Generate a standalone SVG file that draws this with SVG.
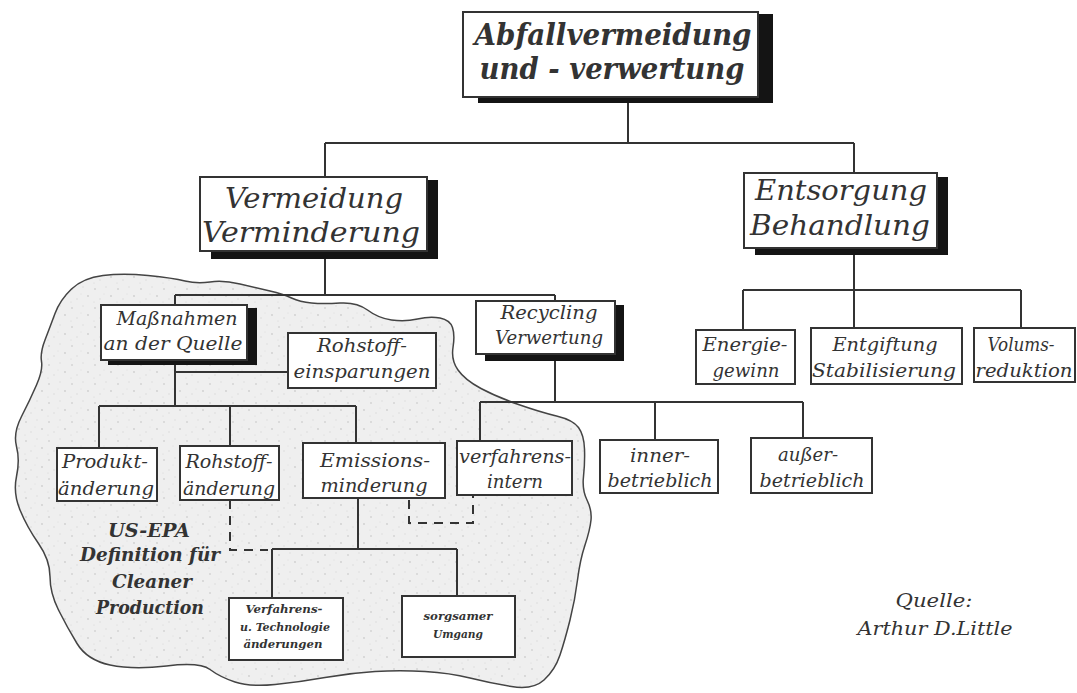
<svg xmlns="http://www.w3.org/2000/svg" width="1077" height="693" viewBox="0 0 1077 693">
<defs>
<pattern id="stipple" width="23" height="19" patternUnits="userSpaceOnUse">
<rect width="23" height="19" fill="#efefef"/>
<circle cx="3" cy="4" r="0.9" fill="#d2d2d2"/>
<circle cx="14" cy="2" r="0.7" fill="#dadada"/>
<circle cx="19" cy="11" r="0.9" fill="#cfcfcf"/>
<circle cx="8" cy="14" r="0.7" fill="#d6d6d6"/>
<circle cx="12" cy="9" r="0.6" fill="#dcdcdc"/>
<circle cx="2" cy="17" r="0.6" fill="#d8d8d8"/>
</pattern>
<style>
.box{fill:#ffffff;stroke:#333;stroke-width:2}
.shadow{fill:#141414}
.ln{fill:none;stroke:#333;stroke-width:2}
.dash{fill:none;stroke:#333;stroke-width:2;stroke-dasharray:9 7}
.t{font-family:"DejaVu Serif","Liberation Serif",serif;font-style:italic;fill:#333;text-anchor:middle}
.big{font-size:29px;font-weight:bold}
.l2{font-size:27px}
.l3{font-size:18px}
.sm{font-size:11px;font-weight:bold}
.epa{font-size:19px;font-weight:bold}
.src{font-size:19px}
</style>
</defs>
<rect width="1077" height="693" fill="#ffffff"/>
<g id="cloud">
<path d="M 55,313.5 Q 60,300 71.5,289 Q 83,278 103,275.5 Q 123,273 148,275.5 Q 173,278 185,281 Q 197,284 210,282 Q 223,280 240,284 Q 257,288 270,291 Q 283,294 291.5,298 Q 300,302 311.5,303 Q 323,304 340,303 Q 357,302 367.5,310 Q 378,318 391.5,320 Q 405,322 417.5,319 Q 430,316 440,318 Q 450,320 452.5,327.5 Q 455,335 453,347.5 Q 451,360 458,370 Q 465,380 481,388.5 Q 497,397 518.5,404.5 Q 540,412 556.5,416 Q 573,420 578.5,427.5 Q 584,435 584.5,449 Q 585,463 583.5,476.5 Q 582,490 587,500 Q 592,510 591,520 Q 590,530 585,545 Q 580,560 577.5,580 Q 575,600 570,620 Q 565,640 560,655 Q 555,670 544,680 Q 533,690 511.5,686.5 Q 490,683 470,678 Q 450,673 425,671.5 Q 400,670 375,671.5 Q 350,673 325,677.5 Q 300,682 275,684.5 Q 250,687 235,682 Q 220,677 210,669.5 Q 200,662 166.5,666 Q 133,670 110,665 Q 87,660 77,643.5 Q 67,627 58.5,610 Q 50,593 50,576.5 Q 50,560 38.5,543.5 Q 27,527 20,510 Q 13,493 16.5,476.5 Q 20,460 16.5,446.5 Q 13,433 21.5,416.5 Q 30,400 36.5,385 Q 43,370 41.5,361.5 Q 40,353 45,340 Q 50,327 55,313.5 Z" fill="url(#stipple)" stroke="#444" stroke-width="1.5"/>
<text class="t epa" x="149" y="537" textLength="82" lengthAdjust="spacingAndGlyphs">US-EPA</text>
<text class="t epa" x="150" y="561" textLength="140" lengthAdjust="spacingAndGlyphs">Definition für</text>
<text class="t epa" x="152" y="588" textLength="80" lengthAdjust="spacingAndGlyphs">Cleaner</text>
<text class="t epa" x="150" y="614" textLength="108" lengthAdjust="spacingAndGlyphs">Production</text>
</g>
<g id="connectors">
<path class="ln" d="M628,97 V143 M325,143 H854 M325,143 V177 M854,143 V173"/>
<path class="ln" d="M325,251 V295 M175,295 H555 M175,295 V305 M555,295 V301"/>
<path class="ln" d="M175,360 V406 M175,372 H288 M99,406 H356 M99,406 V448 M230,406 V446 M356,406 V443"/>
<path class="ln" d="M555,354 V402 M480,402 H803 M480,402 V441 M655,402 V440 M803,402 V438"/>
<path class="ln" d="M854,248 V290 M743,290 H1021 M743,290 V330 M854,290 V328 M1021,290 V328"/>
<path class="ln" d="M358,498 V549 M272,549 H457 M272,549 V598 M457,549 V596"/>
<path class="dash" d="M230,500 V550 H268"/>
<path class="dash" d="M409,500 V523 H473 V495"/>
</g>
<g id="n-top">
<rect class="shadow" x="478" y="14" width="295" height="89"/>
<rect class="box" x="463" y="12" width="295" height="85"/>
<text class="t big" x="613" y="45" textLength="277" lengthAdjust="spacingAndGlyphs">Abfallvermeidung</text>
<text class="t big" x="612" y="79" textLength="265" lengthAdjust="spacingAndGlyphs">und - verwertung</text>
</g>
<g id="n-vermeidung">
<rect class="shadow" x="211" y="180" width="227" height="79"/>
<rect class="box" x="200" y="177" width="227" height="74"/>
<text class="t l2" x="314" y="208" textLength="178" lengthAdjust="spacingAndGlyphs">Vermeidung</text>
<text class="t l2" x="311" y="242" textLength="218" lengthAdjust="spacingAndGlyphs">Verminderung</text>
</g>
<g id="n-entsorgung">
<rect class="shadow" x="755" y="177" width="193" height="78"/>
<rect class="box" x="744" y="173" width="193" height="75"/>
<text class="t l2" x="841" y="200" textLength="172" lengthAdjust="spacingAndGlyphs">Entsorgung</text>
<text class="t l2" x="840" y="235" textLength="180" lengthAdjust="spacingAndGlyphs">Behandlung</text>
</g>
<g id="n-massnahmen">
<rect class="shadow" x="108" y="308" width="149" height="57"/>
<rect class="box" x="101" y="305" width="146" height="55"/>
<text class="t l3" x="177" y="325" textLength="121" lengthAdjust="spacingAndGlyphs">Maßnahmen</text>
<text class="t l3" x="173" y="350" textLength="139" lengthAdjust="spacingAndGlyphs">an der Quelle</text>
</g>
<g id="n-rohstoffeinsparungen">
<rect class="box" x="288" y="333" width="148" height="55"/>
<text class="t l3" x="362" y="352" textLength="90" lengthAdjust="spacingAndGlyphs">Rohstoff-</text>
<text class="t l3" x="362" y="378" textLength="137" lengthAdjust="spacingAndGlyphs">einsparungen</text>
</g>
<g id="n-recycling">
<rect class="shadow" x="485" y="305" width="139" height="56"/>
<rect class="box" x="476" y="301" width="139" height="53"/>
<text class="t l3" x="549" y="319" textLength="97" lengthAdjust="spacingAndGlyphs">Recycling</text>
<text class="t l3" x="549" y="344" textLength="108" lengthAdjust="spacingAndGlyphs">Verwertung</text>
</g>
<g id="n-energie">
<rect class="box" x="696" y="330" width="99" height="54"/>
<text class="t l3" x="745" y="351" textLength="85" lengthAdjust="spacingAndGlyphs">Energie-</text>
<text class="t l3" x="746" y="377" textLength="67" lengthAdjust="spacingAndGlyphs">gewinn</text>
</g>
<g id="n-entgiftung">
<rect class="box" x="811" y="328" width="151" height="56"/>
<text class="t l3" x="885" y="351" textLength="105" lengthAdjust="spacingAndGlyphs">Entgiftung</text>
<text class="t l3" x="884" y="377" textLength="144" lengthAdjust="spacingAndGlyphs">Stabilisierung</text>
</g>
<g id="n-volums">
<rect class="box" x="974" y="328" width="101" height="54"/>
<text class="t l3" x="1021" y="351" textLength="67" lengthAdjust="spacingAndGlyphs">Volums-</text>
<text class="t l3" x="1024" y="377" textLength="97" lengthAdjust="spacingAndGlyphs">reduktion</text>
</g>
<g id="n-produkt">
<rect class="box" x="57" y="448" width="100" height="53"/>
<text class="t l3" x="105" y="468" textLength="86" lengthAdjust="spacingAndGlyphs">Produkt-</text>
<text class="t l3" x="106" y="495" textLength="96" lengthAdjust="spacingAndGlyphs">änderung</text>
</g>
<g id="n-rohstoffaenderung">
<rect class="box" x="180" y="446" width="99" height="54"/>
<text class="t l3" x="229" y="468" textLength="87" lengthAdjust="spacingAndGlyphs">Rohstoff-</text>
<text class="t l3" x="229" y="495" textLength="92" lengthAdjust="spacingAndGlyphs">änderung</text>
</g>
<g id="n-emissions">
<rect class="box" x="303" y="443" width="142" height="55"/>
<text class="t l3" x="375" y="467" textLength="110" lengthAdjust="spacingAndGlyphs">Emissions-</text>
<text class="t l3" x="374" y="492" textLength="107" lengthAdjust="spacingAndGlyphs">minderung</text>
</g>
<g id="n-verfahrensintern">
<rect class="box" x="457" y="441" width="115" height="54"/>
<text class="t l3" x="515" y="463" textLength="112" lengthAdjust="spacingAndGlyphs">verfahrens-</text>
<text class="t l3" x="515" y="488" textLength="56" lengthAdjust="spacingAndGlyphs">intern</text>
</g>
<g id="n-inner">
<rect class="box" x="600" y="440" width="118" height="53"/>
<text class="t l3" x="660" y="462" textLength="60" lengthAdjust="spacingAndGlyphs">inner-</text>
<text class="t l3" x="660" y="487" textLength="105" lengthAdjust="spacingAndGlyphs">betrieblich</text>
</g>
<g id="n-ausser">
<rect class="box" x="751" y="438" width="121" height="55"/>
<text class="t l3" x="808" y="461" textLength="60" lengthAdjust="spacingAndGlyphs">außer-</text>
<text class="t l3" x="812" y="487" textLength="105" lengthAdjust="spacingAndGlyphs">betrieblich</text>
</g>
<g id="n-verfahrenstech">
<rect class="box" x="229" y="598" width="114" height="62"/>
<text class="t sm" x="284" y="613" textLength="77" lengthAdjust="spacingAndGlyphs">Verfahrens-</text>
<text class="t sm" x="285" y="631" textLength="90" lengthAdjust="spacingAndGlyphs">u. Technologie</text>
<text class="t sm" x="283" y="648" textLength="79" lengthAdjust="spacingAndGlyphs">änderungen</text>
</g>
<g id="n-sorgsam">
<rect class="box" x="402" y="596" width="113" height="61"/>
<text class="t sm" x="458" y="620" textLength="69" lengthAdjust="spacingAndGlyphs">sorgsamer</text>
<text class="t sm" x="458" y="638" textLength="50" lengthAdjust="spacingAndGlyphs">Umgang</text>
</g>
<g id="source">
<text class="t src" x="934" y="607" textLength="77" lengthAdjust="spacingAndGlyphs">Quelle:</text>
<text class="t src" x="935" y="635" textLength="155" lengthAdjust="spacingAndGlyphs">Arthur D.Little</text>
</g>
</svg>
